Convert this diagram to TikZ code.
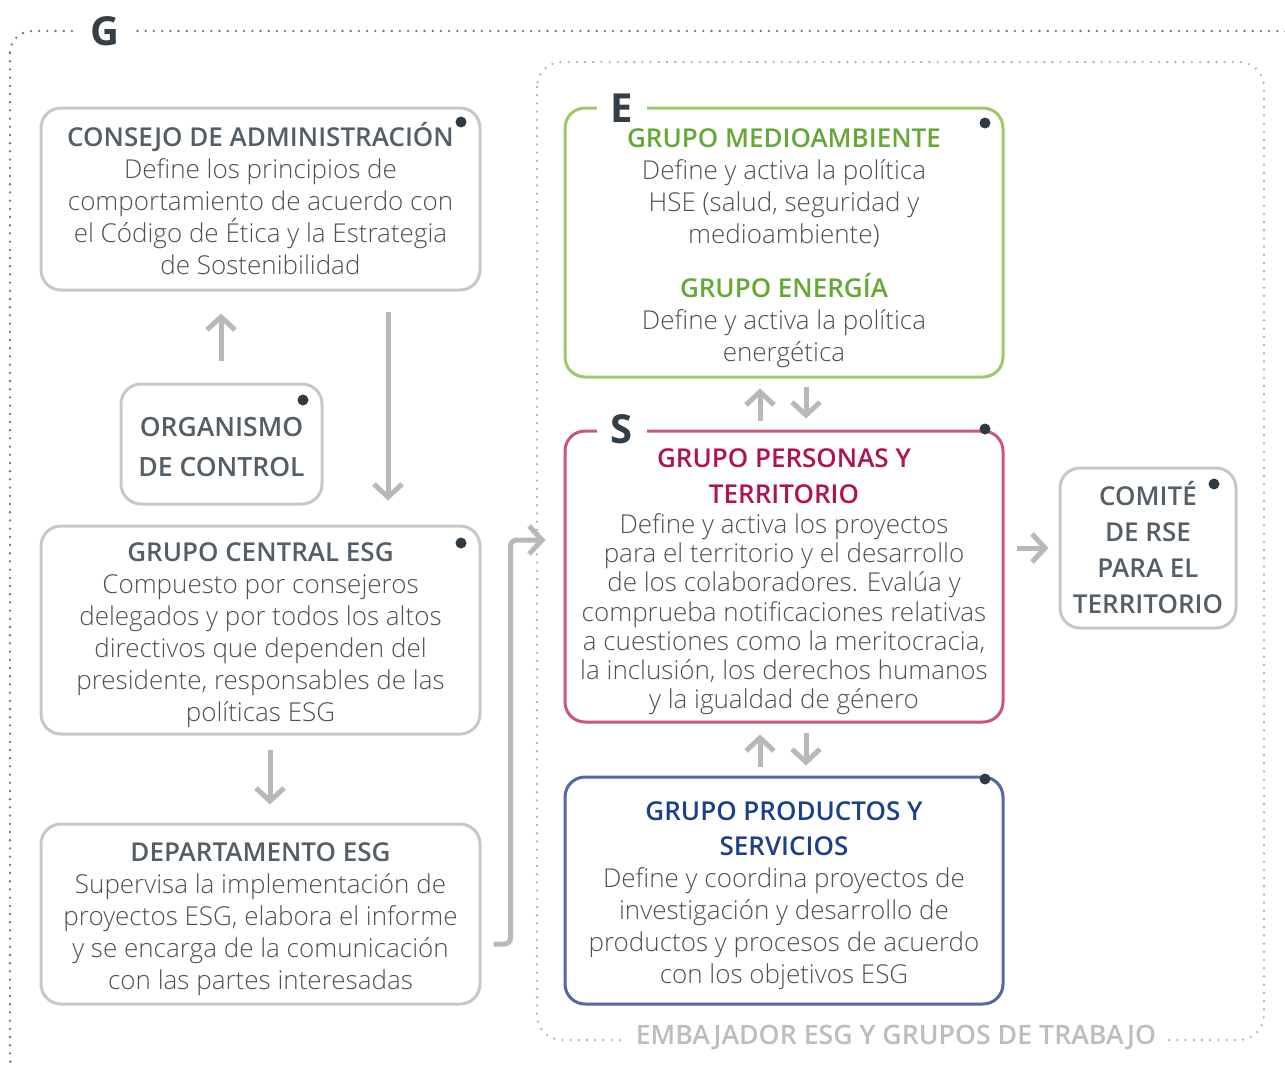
\documentclass[tikz,border=0pt]{standalone}
\usepackage{fontspec}
\setmainfont{Open Sans}
\newfontfamily\lightf{Open Sans Light}
\newfontfamily\semif{Open Sans Semibold}
\usetikzlibrary{arrows.meta}
\definecolor{boxgray}{HTML}{C5C7C9}
\definecolor{arrgray}{HTML}{B7B8BB}
\definecolor{ttlgray}{HTML}{535E66}
\definecolor{bodyc}{HTML}{4A5157}
\definecolor{grnb}{HTML}{9CC96B}
\definecolor{grnt}{HTML}{65A835}
\definecolor{pinkb}{HTML}{C8577D}
\definecolor{pinkt}{HTML}{B0134F}
\definecolor{blueb}{HTML}{5566A8}
\definecolor{bluet}{HTML}{1C3F8C}
\definecolor{dotc}{HTML}{2E3A44}
\definecolor{letc}{HTML}{333F48}
\definecolor{outdot}{HTML}{70757C}
\definecolor{indot}{HTML}{B0B3B6}
\definecolor{embc}{HTML}{BCBDC0}
\newcommand\bodyf{\lightf\fontsize{26}{32}\selectfont\color{bodyc}}
\newcommand\ttl[2]{{\semif\color{#1}#2}}
\newcommand\topttl[2]{{\semif\color{#1}\rule{0pt}{30pt}#2}}
\tikzset{
  box/.style={draw=#1, line width=3pt, rounded corners=20pt, align=center, inner sep=0pt, font=\bodyf},
  arr/.style={draw=arrgray, line width=5pt, -{Straight Barb[length=13pt,width=28pt]}},
  dotline/.style={draw=#1, line width=2.6pt, line cap=round, dash pattern=on 0pt off 8.2pt},
  letter/.style={fill=white, font=\bfseries\fontsize{40}{40}\selectfont, text=letc, inner xsep=14pt, inner ysep=0pt, text depth=0pt},
  blackdot/.style={fill=dotc},
}
\begin{document}
\begin{tikzpicture}[x=1pt,y=-1pt]
\useasboundingbox (0,0) rectangle (1285,1068);
% outer and inner dotted frames
\draw[dotline=outdot, rounded corners=22pt] (10,31) rectangle (1305,1080);
\draw[dotline=indot, rounded corners=25pt] (537,62) rectangle (1264,1040);
\node[letter, inner ysep=4pt] (G) at (105,31) {G};
\node[fill=white, font=\semif\fontsize{26.7}{26.7}\selectfont, text=embc, inner xsep=10pt, inner ysep=4pt] (emb) at (896,1037) {EMBAJADOR ESG Y GRUPOS DE TRABAJO};

% left column
\node[box=boxgray, minimum width=439pt, minimum height=182pt] (consejo) at (260.5,199)
 {\ttl{ttlgray}{CONSEJO DE ADMINISTRACIÓN}\\Define los principios de\\comportamiento de acuerdo con\\el Código de Ética y la Estrategia\\de Sostenibilidad};
\node[box=boxgray, minimum width=201pt, minimum height=120pt, font=\semif\fontsize{26.5}{40}\selectfont\color{ttlgray}] (org) at (221.5,444)
 {\vphantom{ÉÓ}ORGANISMO\\DE CONTROL};
\node[box=boxgray, minimum width=439pt, minimum height=208pt] (central) at (260.5,630)
 {\topttl{ttlgray}{GRUPO CENTRAL ESG}\\Compuesto por consejeros\\delegados y por todos los altos\\directivos que dependen del\\presidente, responsables de las\\políticas ESG};
\node[box=boxgray, minimum width=439pt, minimum height=180pt] (dept) at (260.5,914)
 {\topttl{ttlgray}{DEPARTAMENTO ESG}\\Supervisa la implementación de\\proyectos ESG, elabora el informe\\y se encarga de la comunicación\\con las partes interesadas};

% right column
\node[box=grnb, minimum width=438pt, minimum height=269pt] (green) at (784,242.5)
 {\topttl{grnt}{GRUPO MEDIOAMBIENTE}\\Define y activa la política\\HSE (salud, seguridad y\\medioambiente)\\[22pt]\ttl{grnt}{GRUPO ENERGÍA}\\Define y activa la política\\energética};
\node[box=pinkb, minimum width=438pt, minimum height=291pt, font=\lightf\fontsize{26}{29.3}\selectfont\color{bodyc}] (pink) at (784,576.5)
 {\topttl{pinkt}{GRUPO PERSONAS Y}\\[6.7pt]\ttl{pinkt}{TERRITORIO}\\Define y activa los proyectos\\para el territorio y el desarrollo\\de los colaboradores. Evalúa y\\comprueba notificaciones relativas\\a cuestiones como la meritocracia,\\la inclusión, los derechos humanos\\y la igualdad de género};
\node[box=blueb, minimum width=438pt, minimum height=227pt] (blue) at (784,890.5)
 {\topttl{bluet}{GRUPO PRODUCTOS Y}\\[3pt]\ttl{bluet}{SERVICIOS}\\Define y coordina proyectos de\\investigación y desarrollo de\\productos y procesos de acuerdo\\con los objetivos ESG};
\node[box=boxgray, minimum width=176pt, minimum height=160pt, font=\semif\fontsize{26}{36}\selectfont\color{ttlgray}] (comite) at (1148,548)
 {COMITÉ\\DE RSE\\PARA EL\\TERRITORIO};

% letters on borders
\node[letter] (E) at (622,108) {E};
\node[letter] (S) at (622,429) {S};

% corner dots
\fill[blackdot] (461,122) circle (5.5pt);
\fill[blackdot] (303,400) circle (5.5pt);
\fill[blackdot] (461,543) circle (5.5pt);
\fill[blackdot] (985,123) circle (5.5pt);
\fill[blackdot] (985,429) circle (5.5pt);
\fill[blackdot] (985,779) circle (5.5pt);
\fill[blackdot] (1214,484) circle (5.5pt);

% connectors
\draw[arr, shorten <=22pt, shorten >=22pt] (221,0 |- org.north) -- (221,0 |- consejo.south);
\draw[arr, shorten <=20pt, shorten >=24pt] (388,0 |- consejo.south) -- (388,0 |- central.north);
\draw[arr, shorten <=14pt, shorten >=18pt] (270,0 |- central.south) -- (270,0 |- dept.north);
\draw[arr, rounded corners=6pt] ([xshift=12pt,yshift=-30pt]dept.east) -| ([xshift=-53pt,yshift=36.5pt]pink.west) -- ([xshift=-18pt,yshift=36.5pt]pink.west);
\draw[arr, shorten <=9pt, shorten >=10pt] (760,0 |- pink.north) -- (760,0 |- green.south);
\draw[arr, shorten <=8pt, shorten >=11pt] (806,0 |- green.south) -- (806,0 |- pink.north);
\draw[arr, shorten <=9pt, shorten >=11pt] (760,0 |- blue.north) -- (760,0 |- pink.south);
\draw[arr, shorten <=9pt, shorten >=10pt] (806,0 |- pink.south) -- (806,0 |- blue.north);
\draw[arr, shorten <=12pt, shorten >=10pt] (pink.east |- comite.west) -- (comite.west);
\end{tikzpicture}
\end{document}
